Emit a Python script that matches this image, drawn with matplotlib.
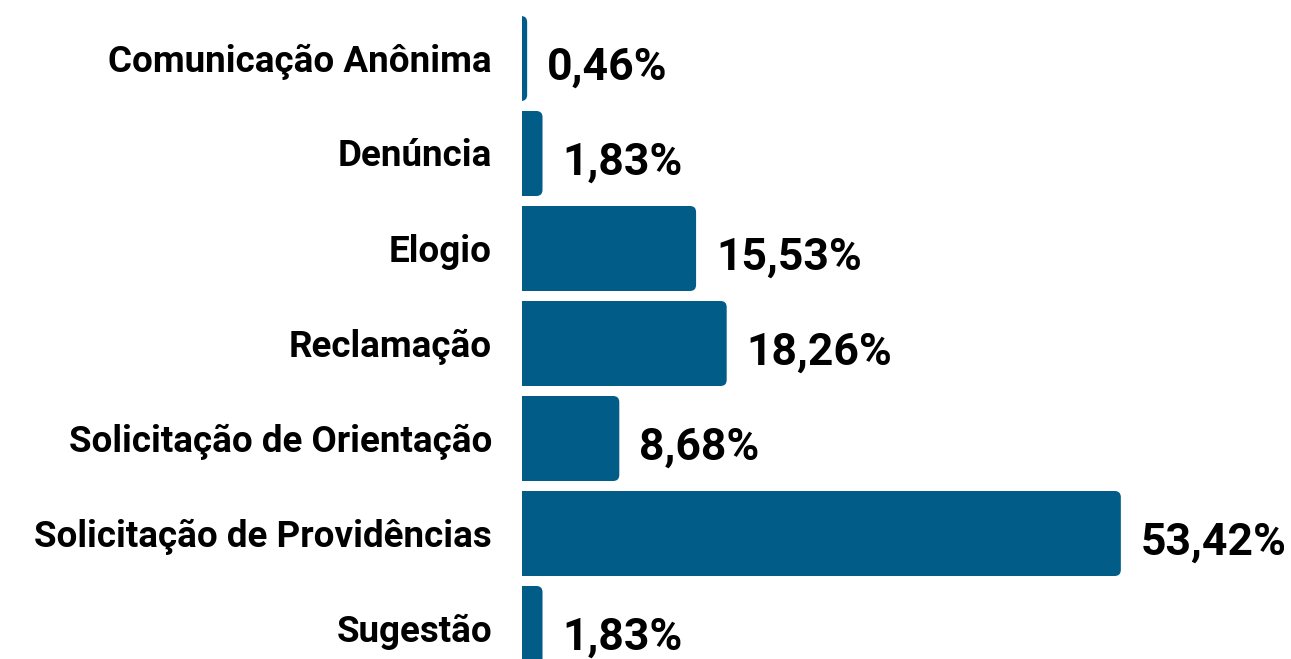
import matplotlib.pyplot as plt
from matplotlib.patches import FancyBboxPatch

categorias = ['Comunicação Anônima', 'Denúncia', 'Elogio', 'Reclamação',
              'Solicitação de Orientação', 'Solicitação de Providências', 'Sugestão']
percentuais = [0.46, 1.83, 15.53, 18.26, 8.68, 53.42, 1.83]

cor = '#015c88'
plt.rcParams['font.family'] = ['Roboto', 'DejaVu Sans']

fig = plt.figure(figsize=(12.91, 6.59), dpi=100)
ax = fig.add_axes([522 / 1291, 0, 1 - 522 / 1291, 1])

pos = list(range(len(categorias)))
bars = ax.barh(pos, percentuais, height=85 / 95, color=cor)

ax.set_xlim(0, (1291 - 522) / 11.21)
ax.set_ylim((659 - 58.5) / 95, -58.5 / 95)

# trocar as barras por retangulos arredondados
asp = 11.21 / 95
for b in bars:
    x, y, w, h = b.get_x(), b.get_y(), b.get_width(), b.get_height()
    b.set_visible(False)
    p = FancyBboxPatch((x - 1, y), w + 1, h,
                       boxstyle='round,pad=0,rounding_size=0.55',
                       mutation_aspect=asp, fc=cor, ec='none', clip_on=True)
    ax.add_patch(p)

for i, v in enumerate(percentuais):
    txt = f'{v:.2f}'.replace('.', ',') + '%'
    ax.annotate(txt, (v, i), xytext=(20, -9), textcoords='offset pixels',
                ha='left', va='center', fontsize=32, fontweight='bold', color='black')
    # rotulo da categoria
    ax.annotate(categorias[i], (0, i), xytext=(-30, -3), textcoords='offset pixels',
                ha='right', va='center', fontsize=26.5, fontweight='bold',
                color='black', annotation_clip=False)

ax.set_yticks([])
ax.set_xticks([])
for s in ax.spines.values():
    s.set_visible(False)

fig.savefig('out.png', dpi=100)
